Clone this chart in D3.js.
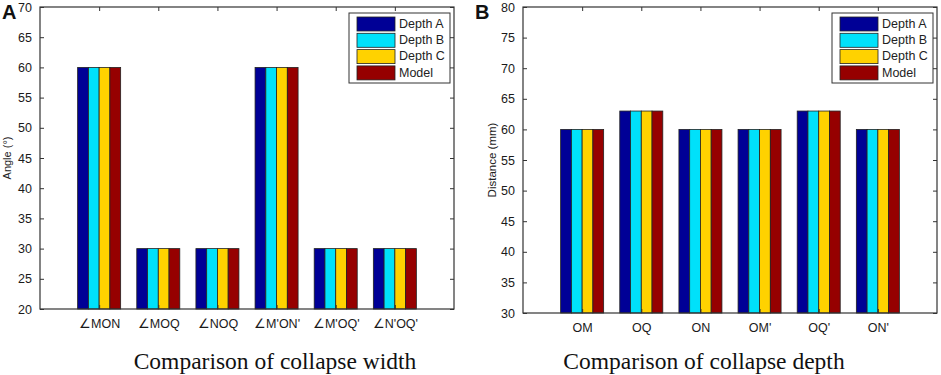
<!DOCTYPE html>
<html>
<head>
<meta charset="utf-8">
<script src="https://cdn.jsdelivr.net/npm/d3@7"></script>
<style>
  body { margin: 0; background: #fff; }
  svg { display: block; }
  text { font-family: Arial, "Liberation Sans", sans-serif; fill: #222; }
</style>
</head>
<body>
<svg id="chart" width="941" height="375"></svg>
<script>
const seriesNames = ["Depth A", "Depth B", "Depth C", "Model"];
const seriesColors = ["#000096", "#00e1fa", "#ffd200", "#960000"];

const widthCats = ["∠MON", "∠MOQ", "∠NOQ", "∠M'ON'", "∠M'OQ'", "∠N'OQ'"];
const widthDepthA = [60, 30, 30, 60, 30, 30];
const widthDepthB = [60, 30, 30, 60, 30, 30];
const widthDepthC = [60, 30, 30, 60, 30, 30];
const widthModel  = [60, 30, 30, 60, 30, 30];

const depthCats = ["OM", "OQ", "ON", "OM'", "OQ'", "ON'"];
const depthDepthA = [60, 63, 60, 60, 63, 60];
const depthDepthB = [60, 63, 60, 60, 63, 60];
const depthDepthC = [60, 63, 60, 60, 63, 60];
const depthModel  = [60, 63, 60, 60, 63, 60];

const yTicksA = [20, 25, 30, 35, 40, 45, 50, 55, 60, 65, 70];
const yTicksB = [30, 35, 40, 45, 50, 55, 60, 65, 70, 75, 80];

const svg = d3.select("#chart");

const drawPanel = opts => {
  const { left, right, top, bottom, cats, series, yDomain, yTicks,
          yLabel, yLabelX, yLabelSize, letter, letterX, title, titleX } = opts;

  const x = d3.scaleLinear().domain([0, cats.length + 1]).range([left, right]);
  const y = d3.scaleLinear().domain(yDomain).range([bottom, top]);
  const g = svg.append("g");

  // grouped bars (MATLAB style: group width 0.727, 4 bars)
  const groupW = Math.min(0.8, series.length / (series.length + 1.5));
  const barW = groupW / series.length;

  series.forEach((vals, si) => {
    g.selectAll(null)
      .data(vals)
      .enter()
      .append("rect")
      .attr("x", (d, i) => x(i + 1 - groupW / 2 + si * barW))
      .attr("width", x(barW) - x(0))
      .attr("y", d => y(d))
      .attr("height", d => y(yDomain[0]) - y(d))
      .attr("fill", seriesColors[si])
      .attr("stroke", "#222")
      .attr("stroke-width", 0.8);
  });

  // axes box
  g.append("rect")
    .attr("x", left).attr("y", top)
    .attr("width", right - left).attr("height", bottom - top)
    .attr("fill", "none").attr("stroke", "#333").attr("stroke-width", 1.2);

  // y ticks, inward on both sides
  const yAxisL = d3.axisLeft(y).tickValues(yTicks).tickSizeInner(-4).tickSizeOuter(0).tickPadding(8);
  const gl = g.append("g").attr("transform", `translate(${left},0)`).call(yAxisL);
  gl.select(".domain").remove();
  gl.selectAll("line").attr("stroke", "#333");
  gl.selectAll("text").style("font-size", "12.5px").style("fill", "#1a1a1a");

  const yAxisR = d3.axisRight(y).tickValues(yTicks).tickSizeInner(-4).tickSizeOuter(0).tickFormat("");
  const gr = g.append("g").attr("transform", `translate(${right},0)`).call(yAxisR);
  gr.select(".domain").remove();
  gr.selectAll("line").attr("stroke", "#333");

  // x ticks, inward top and bottom
  const idx = d3.range(1, cats.length + 1);
  const xAxisB = d3.axisBottom(x).tickValues(idx).tickSizeInner(-4).tickSizeOuter(0)
    .tickPadding(10).tickFormat(i => cats[i - 1]);
  const gb = g.append("g").attr("transform", `translate(0,${bottom})`).call(xAxisB);
  gb.select(".domain").remove();
  gb.selectAll("line").attr("stroke", "#333");
  gb.selectAll("text").style("font-size", "12.5px").style("fill", "#1a1a1a");

  const xAxisT = d3.axisTop(x).tickValues(idx).tickSizeInner(-4).tickSizeOuter(0).tickFormat("");
  const gt = g.append("g").attr("transform", `translate(0,${top})`).call(xAxisT);
  gt.select(".domain").remove();
  gt.selectAll("line").attr("stroke", "#333");

  // y label
  g.append("text")
    .attr("transform", `translate(${yLabelX},${(top + bottom) / 2}) rotate(-90)`)
    .attr("text-anchor", "middle")
    .attr("dominant-baseline", "middle")
    .style("font-size", yLabelSize + "px")
    .text(yLabel);

  // panel letter
  g.append("text")
    .attr("x", letterX).attr("y", 19)
    .style("font-size", "20px").style("font-weight", "bold")
    .style("fill", "#111")
    .text(letter);

  // caption
  g.append("text")
    .attr("x", titleX).attr("y", 369)
    .attr("text-anchor", "middle")
    .style("font-family", "'Liberation Serif', 'Times New Roman', serif")
    .style("font-size", "23.5px")
    .style("fill", "#111")
    .text(title);

  // legend
  const lgX = right - 105, lgY = 13;
  const lg = g.append("g").attr("transform", `translate(${lgX},${lgY})`);
  lg.append("rect")
    .attr("width", 101).attr("height", 70)
    .attr("fill", "#fff").attr("stroke", "#333").attr("stroke-width", 1);
  seriesNames.forEach((name, si) => {
    lg.append("rect")
      .attr("x", 8).attr("y", 4 + si * 16.3)
      .attr("width", 38).attr("height", 14)
      .attr("fill", seriesColors[si])
      .attr("stroke", "#222").attr("stroke-width", 0.8);
    lg.append("text")
      .attr("x", 50).attr("y", 11.5 + si * 16.3)
      .attr("dominant-baseline", "middle")
      .style("font-size", "12.5px")
      .text(name);
  });
};

drawPanel({
  left: 40, right: 454, top: 7, bottom: 309,
  cats: widthCats,
  series: [widthDepthA, widthDepthB, widthDepthC, widthModel],
  yDomain: [20, 70], yTicks: yTicksA,
  yLabel: "Angle (°)", yLabelX: 8, yLabelSize: 11,
  letter: "A", letterX: 2,
  title: "Comparison of collapse width", titleX: 275
});

drawPanel({
  left: 523, right: 937, top: 7, bottom: 313,
  cats: depthCats,
  series: [depthDepthA, depthDepthB, depthDepthC, depthModel],
  yDomain: [30, 80], yTicks: yTicksB,
  yLabel: "Distance (mm)", yLabelX: 493, yLabelSize: 11.5,
  letter: "B", letterX: 475,
  title: "Comparison of collapse depth", titleX: 704
});
</script>
</body>
</html>
